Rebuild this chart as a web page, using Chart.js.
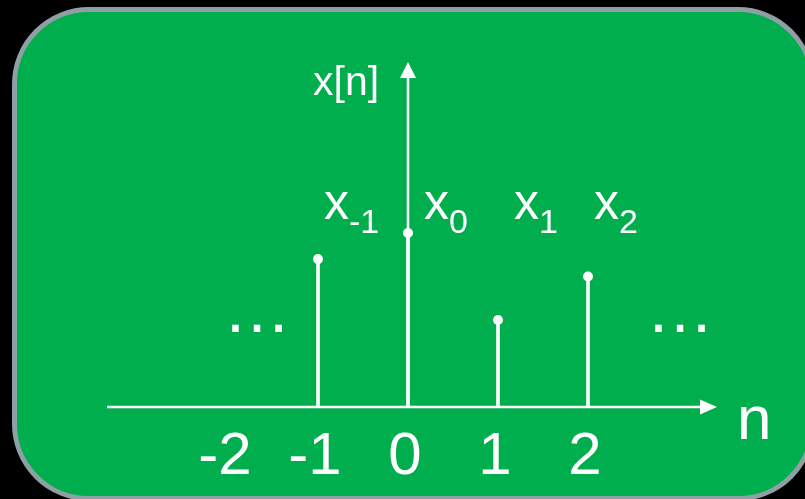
<!DOCTYPE html>
<html>
<head>
<meta charset="utf-8">
<script src="https://cdn.jsdelivr.net/npm/chart.js@4/dist/chart.umd.min.js"></script>
<style>
  html, body { margin: 0; padding: 0; background: #000; overflow: hidden; }
  #c { display: block; }
</style>
</head>
<body>
<canvas id="c" width="805" height="499"></canvas>
<script>
// sample data
const sampleIndex = [-1, 0, 1, 2];
const sampleValues = [0.85, 1.0, 0.5, 0.75];
const sampleSubs = ['-1', '0', '1', '2'];
const tickValues = [-2, -1, 0, 1, 2];
const tickLabels = ['-2', '-1', '0', '1', '2'];
const xTitle = 'n';
const yTitle = 'x[n]';

const green = '#00ae4d';
const frame = '#8e9fa5';
const white = '#ffffff';
const font = "'Liberation Sans', Arial, sans-serif";

const points = sampleIndex.map((n, i) => ({ x: n, y: sampleValues[i] }));

function roundRect(ctx, x, y, w, h, r) {
  ctx.beginPath();
  ctx.moveTo(x + r, y);
  ctx.lineTo(x + w - r, y);
  ctx.arcTo(x + w, y, x + w, y + r, r);
  ctx.lineTo(x + w, y + h - r);
  ctx.arcTo(x + w, y + h, x + w - r, y + h, r);
  ctx.lineTo(x + r, y + h);
  ctx.arcTo(x, y + h, x, y + h - r, r);
  ctx.lineTo(x, y + r);
  ctx.arcTo(x, y, x + r, y, r);
  ctx.closePath();
}

const panel = {
  id: 'panel',
  beforeDraw(chart) {
    const ctx = chart.ctx;
    ctx.save();
    ctx.fillStyle = '#000';
    ctx.fillRect(0, 0, chart.width, chart.height);
    roundRect(ctx, 14.5, 9.5, 798, 489, 74.5);
    ctx.fillStyle = green;
    ctx.fill();
    ctx.lineWidth = 5;
    ctx.strokeStyle = frame;
    ctx.stroke();
    ctx.restore();
  },
  beforeDatasetsDraw(chart) {
    const ctx = chart.ctx;
    const xs = chart.scales.x, ys = chart.scales.y;
    const x0 = xs.getPixelForValue(0);
    const y0 = ys.getPixelForValue(0);
    ctx.save();
    ctx.strokeStyle = white;
    ctx.fillStyle = white;
    ctx.lineWidth = 2.5;
    // horizontal axis
    ctx.beginPath();
    ctx.moveTo(107, y0);
    ctx.lineTo(702, y0);
    ctx.stroke();
    ctx.beginPath();
    ctx.moveTo(717, y0);
    ctx.lineTo(700, y0 - 7.5);
    ctx.lineTo(700, y0 + 7.5);
    ctx.closePath();
    ctx.fill();
    // vertical axis
    ctx.beginPath();
    ctx.moveTo(x0, y0);
    ctx.lineTo(x0, 76);
    ctx.stroke();
    ctx.beginPath();
    ctx.moveTo(x0, 62);
    ctx.lineTo(x0 - 8, 78);
    ctx.lineTo(x0 + 8, 78);
    ctx.closePath();
    ctx.fill();
    ctx.restore();
  },
  afterDraw(chart) {
    const ctx = chart.ctx;
    const xs = chart.scales.x;
    ctx.save();
    ctx.fillStyle = white;
    ctx.textBaseline = 'alphabetic';
    // tick labels
    ctx.font = '60px ' + font;
    ctx.textAlign = 'center';
    tickValues.forEach((v, i) => {
      ctx.fillText(tickLabels[i], xs.getPixelForValue(v) - 3, 474);
    });
    // axis titles
    ctx.textAlign = 'left';
    ctx.font = '62px ' + font;
    ctx.fillText(xTitle, 737, 439);
    ctx.font = '41px ' + font;
    ctx.fillText(yTitle, 313, 95);
    // ellipses
    ctx.font = '68px ' + font;
    ctx.textAlign = 'center';
    ctx.fillText('\u2026', 257, 332);
    ctx.fillText('\u2026', 680, 332);
    // sample names with subscripts
    ctx.textAlign = 'left';
    sampleIndex.forEach((n, i) => {
      const left = xs.getPixelForValue(n) + (n === 0 || n === 1 ? 16 : 6);
      ctx.font = '50px ' + font;
      ctx.fillText('x', left, 219);
      const w = ctx.measureText('x').width;
      ctx.font = '34px ' + font;
      ctx.fillText(sampleSubs[i], left + w, 233);
    });
    ctx.restore();
  }
};

new Chart(document.getElementById('c'), {
  type: 'bar',
  data: {
    datasets: [
      {
        type: 'scatter',
        data: points,
        pointRadius: 5,
        pointBackgroundColor: white,
        pointBorderWidth: 0,
        showLine: false,
        order: 0,
      },
      {
        type: 'bar',
        data: points,
        backgroundColor: white,
        barThickness: 3,
        order: 1,
      },
    ],
  },
  plugins: [panel],
  options: {
    responsive: false,
    animation: false,
    events: [],
    layout: { padding: { left: 48, right: 37, top: 59, bottom: 2.5 } },
    plugins: { legend: { display: false }, tooltip: { enabled: false } },
    scales: {
      x: { type: 'linear', display: false, min: -4, max: 4, offset: false, grid: { display: false } },
      y: { type: 'linear', display: false, min: -0.5, max: 2, grid: { display: false } },
    },
  },
});
</script>
</body>
</html>
